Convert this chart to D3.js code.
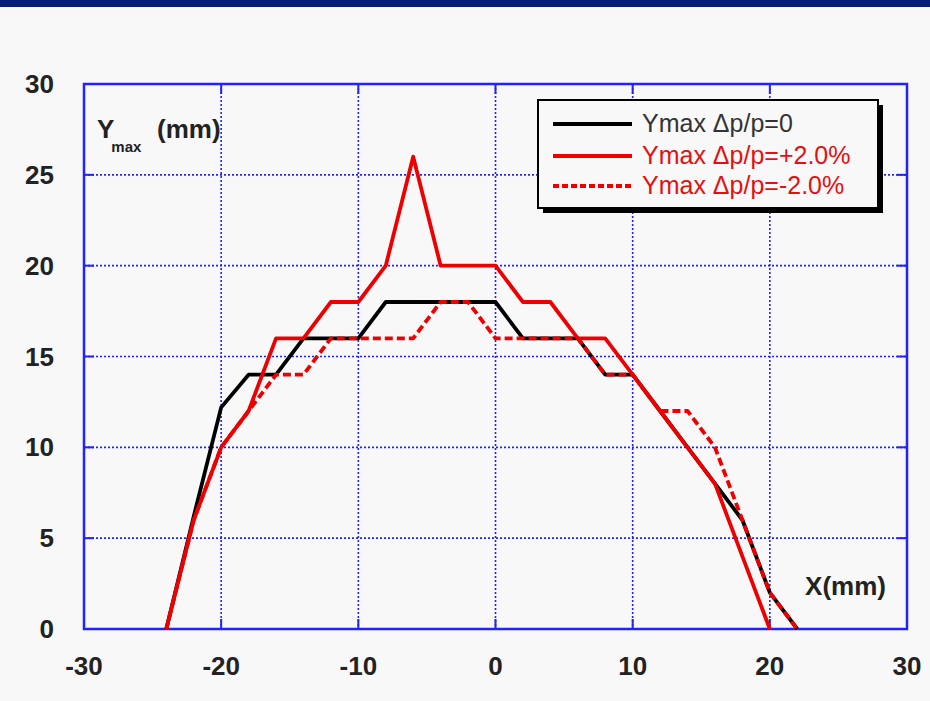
<!DOCTYPE html>
<html>
<head>
	<meta charset="utf-8">
	<title>Ymax vs X</title>
	<style>
		body { margin: 0; background: #f8f8f8; }
		svg { display: block; font-family: "Liberation Sans", Arial, Helvetica, sans-serif; }
	</style>
</head>
<body onload="init()">
	<svg width="930" height="701"></svg>
</body>
<script src="https://cdn.jsdelivr.net/npm/d3@7"></script>
<script>
	// data (mm)
	let xs = [-24, -22, -20, -18, -16, -14, -12, -10, -8, -6, -4, -2, 0, 2, 4, 6, 8, 10, 12, 14, 16, 18, 20, 22]
	let yNominal = [0, 6.2, 12.2, 14, 14, 16, 16, 16, 18, 18, 18, 18, 18, 16, 16, 16, 14, 14, 12, 10, 8, 6, 2, 0]
	let yPlus2 = [0, 6, 10, 12, 16, 16, 18, 18, 20, 26, 20, 20, 20, 18, 18, 16, 16, 14, 12, 10, 8, 4, 0, null]
	let yMinus2 = [0, 6, 10, 12, 14, 14, 16, 16, 16, 16, 18, 18, 16, 16, 16, 16, 14, 14, 12, 12, 10, 6, 2, 0]
	let xTicks = [-30, -20, -10, 0, 10, 20, 30]
	let yTicks = [0, 5, 10, 15, 20, 25, 30]
	let seriesNames = ["Ymax \u0394p/p=0", "Ymax \u0394p/p=+2.0%", "Ymax \u0394p/p=-2.0%"]

	function init() {
		let svg = d3.select("svg")
		let blue = "#2222ff", red = "#ee0000"

		// top banner
		svg.append("rect").attr("x", 0).attr("y", 0).attr("width", 930).attr("height", 7)
			.attr("fill", "#001c78")

		let left = 84, right = 907, top = 84, bottom = 629
		let x = d3.scaleLinear().domain([-30, 30]).range([left, right])
		let y = d3.scaleLinear().domain([0, 30]).range([bottom, top])

		// dotted grid
		let grid = svg.append("g").attr("stroke", blue).attr("stroke-width", 1.6)
			.attr("stroke-dasharray", "2,2")
		grid.selectAll(".gx").data(xTicks.slice(1, -1)).enter().append("line")
			.attr("x1", d => x(d)).attr("x2", d => x(d)).attr("y1", top).attr("y2", bottom)
		grid.selectAll(".gy").data(yTicks.slice(1, -1)).enter().append("line")
			.attr("y1", d => y(d)).attr("y2", d => y(d)).attr("x1", left).attr("x2", right)

		// inward ticks on all four sides
		let tl = 10
		let ticks = svg.append("g").attr("stroke", blue).attr("stroke-width", 2)
		xTicks.forEach(d => {
			ticks.append("line").attr("x1", x(d)).attr("x2", x(d)).attr("y1", bottom).attr("y2", bottom - tl)
			ticks.append("line").attr("x1", x(d)).attr("x2", x(d)).attr("y1", top).attr("y2", top + tl)
		})
		yTicks.forEach(d => {
			ticks.append("line").attr("y1", y(d)).attr("y2", y(d)).attr("x1", left).attr("x2", left + tl)
			ticks.append("line").attr("y1", y(d)).attr("y2", y(d)).attr("x1", right).attr("x2", right - tl)
		})

		// frame
		svg.append("rect").attr("x", left).attr("y", top)
			.attr("width", right - left).attr("height", bottom - top)
			.attr("fill", "none").attr("stroke", blue).attr("stroke-width", 2.5)

		// tick labels
		svg.append("g").selectAll("text").data(xTicks).enter().append("text")
			.attr("x", d => x(d)).attr("y", 675)
			.attr("text-anchor", "middle").attr("font-size", 26).attr("font-weight", "bold")
			.attr("fill", "#222").text(d => d)
		svg.append("g").selectAll("text").data(yTicks).enter().append("text")
			.attr("x", 54).attr("y", d => y(d) + 9)
			.attr("text-anchor", "end").attr("font-size", 26).attr("font-weight", "bold")
			.attr("fill", "#222").text(d => d)

		// axis titles
		let yt = svg.append("text").attr("x", 97).attr("y", 138)
			.attr("font-weight", "bold").attr("fill", "#222")
		yt.append("tspan").attr("font-size", 26).text("Y")
		yt.append("tspan").attr("font-size", 15).attr("dy", 14).attr("dx", -3).text("max")
		svg.append("text").attr("x", 157).attr("y", 138)
			.attr("font-size", 26).attr("font-weight", "bold").attr("fill", "#222").text("(mm)")
		svg.append("text").attr("x", 886).attr("y", 595).attr("text-anchor", "end")
			.attr("font-size", 26).attr("font-weight", "bold").attr("fill", "#222").text("X(mm)")

		// curves
		let line = d3.line()
			.defined(d => d[1] != null)
			.x(d => x(d[0])).y(d => y(d[1]))
		let series = [
			{ vals: yNominal, color: "#000", dash: null },
			{ vals: yPlus2, color: red, dash: null },
			{ vals: yMinus2, color: red, dash: "8,4" }
		]
		svg.append("g").selectAll("path").data(series).enter().append("path")
			.attr("d", s => line(xs.map((v, i) => [v, s.vals[i]])))
			.attr("fill", "none").attr("stroke", s => s.color).attr("stroke-width", 3.8)
			.attr("stroke-dasharray", s => s.dash).attr("stroke-linejoin", "round")

		// legend with drop shadow
		let lg = svg.append("g").attr("transform", "translate(538,100)")
		lg.append("rect").attr("x", 5).attr("y", 5).attr("width", 340).attr("height", 108).attr("fill", "#000")
		lg.append("rect").attr("width", 340).attr("height", 108)
			.attr("fill", "#f8f8f8").attr("stroke", "#000").attr("stroke-width", 2)
		let rows = lg.selectAll(".row").data(series).enter().append("g")
			.attr("transform", (d, i) => "translate(0," + [24, 56, 86][i] + ")")
		rows.append("line").attr("x1", 15).attr("x2", 94)
			.attr("stroke", d => d.color).attr("stroke-width", 3.8)
			.attr("stroke-dasharray", d => d.dash ? "6,3" : null)
		rows.append("text").attr("x", 104).attr("y", 8)
			.attr("font-size", 25).attr("fill", (d, i) => i == 0 ? "#333" : "#e41010")
			.text((d, i) => seriesNames[i])
	}
</script>
</html>
